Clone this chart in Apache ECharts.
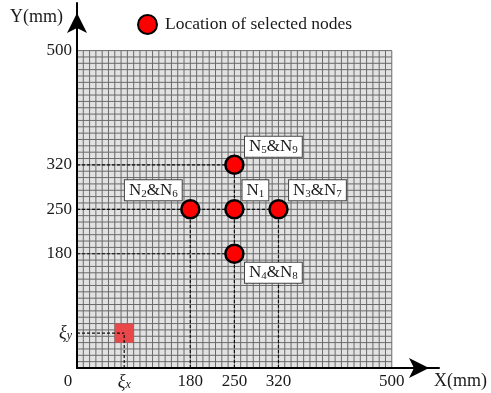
<!DOCTYPE html>
<html>
<head>
<meta charset="utf-8">
<script src="https://cdn.jsdelivr.net/npm/echarts@6/dist/echarts.min.js"></script>
<style>
  html, body { margin: 0; padding: 0; background: #fff; }
  #chart { width: 491px; height: 393px; }
</style>
</head>
<body>
<div id="chart"></div>
<script>
// ---- data ----
const xTicks = [0, 180, 250, 320, 500];
const yTicks = [180, 250, 320, 500];
const xiPoint = [75, 55];                 // (xi_x, xi_y)
const xiCell = [60, 40, 90, 70];          // x0, y0, x1, y1 of red cell
const nodeNames = ["N1", "N2&N6", "N3&N7", "N4&N8", "N5&N9"];
const nodeX = [250, 180, 320, 250, 250];
const nodeY = [250, 250, 250, 180, 320];
const meshSize = 500;
const meshStep = 10;
const axisEnd = 575;                      // arrow tip beyond the mesh

const FONT = "Liberation Serif";
const TXT = "#1a1a1a";

// label placement around each node (px, from node centre)
const labelOffset = {
  "N1": [21, -19],
  "N2&N6": [-37, -19],
  "N3&N7": [39, -19],
  "N4&N8": [39, 19],
  "N5&N9": [39, -18]
};

const chart = echarts.init(document.getElementById("chart"), null, { renderer: "canvas" });

// dashed guides: from axes to the farthest node on each row / column
const guides = [];
[...new Set(nodeY)].forEach(y => {
  const xm = Math.max(...nodeX.filter((x, i) => nodeY[i] === y));
  guides.push([[0, y], [xm, y]]);
});
[...new Set(nodeX)].forEach(x => {
  const ym = Math.max(...nodeY.filter((y, i) => nodeX[i] === x));
  guides.push([[x, 0], [x, ym]]);
});
guides.push([[0, xiPoint[1]], xiPoint]);
guides.push([[xiPoint[0], 0], xiPoint]);

const guideSeries = guides.map(g => ({
  type: "line",
  data: g,
  symbol: "none",
  silent: true,
  z: 3,
  lineStyle: { color: "#111", width: 1.2, type: [3, 2] }
}));

const axisLineStyle = {
  show: true,
  symbol: ["none", "arrow"],
  symbolSize: [15, 20],
  symbolOffset: [0, -10],
  lineStyle: { color: "#000", width: 2 }
};

const xiRich = {
  xi: { fontFamily: FONT, fontSize: 18, fontStyle: "italic", color: TXT, lineHeight: 18 },
  sub: { fontFamily: FONT, fontSize: 12, fontStyle: "italic", color: TXT, verticalAlign: "bottom", lineHeight: 10 },
  zero: { fontFamily: FONT, fontSize: 17, color: TXT, padding: [0, 18, 0, 0] }
};

chart.setOption({
  animation: false,
  grid: { left: 77, right: 52, top: 3, bottom: 25 },

  legend: {
    data: ["Location of selected nodes"],
    left: 132,
    top: 9,
    itemWidth: 19,
    itemHeight: 19,
    textStyle: { fontFamily: FONT, fontSize: 17.5, color: TXT, padding: [0, 0, 0, 3] }
  },

  xAxis: {
    type: "value",
    min: 0,
    max: axisEnd,
    z: 10,
    axisLine: axisLineStyle,
    axisTick: { show: false },
    splitLine: { show: false },
    axisLabel: {
      customValues: [...xTicks, xiPoint[0]],
      margin: 5,
      fontFamily: FONT,
      fontSize: 17,
      color: TXT,
      formatter: v => {
        if (v === xiPoint[0]) return "{xi|ξ}{sub|x}";
        if (v === 0) return "{zero|0}";
        return String(v);
      },
      rich: xiRich
    },
    name: "X(mm)",
    nameLocation: "end",
    nameGap: -5,
    nameTextStyle: {
      fontFamily: FONT, fontSize: 18, color: TXT,
      align: "left", verticalAlign: "top", padding: [4, 0, 0, 0]
    }
  },

  yAxis: {
    type: "value",
    min: 0,
    max: axisEnd,
    z: 10,
    axisLine: axisLineStyle,
    axisTick: { show: false },
    splitLine: { show: false },
    axisLabel: {
      customValues: [xiPoint[1], ...yTicks],
      margin: 5,
      fontFamily: FONT,
      fontSize: 17,
      color: TXT,
      formatter: v => (v === xiPoint[1] ? "{xi|ξ}{sub|y}" : String(v)),
      rich: xiRich
    },
    name: "Y(mm)",
    nameLocation: "end",
    nameGap: -14,
    nameTextStyle: {
      fontFamily: FONT, fontSize: 18, color: TXT,
      align: "right", verticalAlign: "middle", padding: [0, 14, 0, 0]
    }
  },

  series: [
    // mesh
    {
      type: "custom",
      silent: true,
      z: 1,
      data: [[0, 0]],
      renderItem(params, api) {
        const p0 = api.coord([0, 0]);
        const p1 = api.coord([meshSize, meshSize]);
        const children = [{
          type: "rect",
          shape: { x: p0[0], y: p1[1], width: p1[0] - p0[0], height: p0[1] - p1[1] },
          style: { fill: "#e2e2e2" }
        }];
        for (let v = meshStep; v <= meshSize; v += meshStep) {
          const a = api.coord([v, 0]), b = api.coord([v, meshSize]);
          const c = api.coord([0, v]), d = api.coord([meshSize, v]);
          children.push({ type: "line", shape: { x1: a[0], y1: a[1], x2: b[0], y2: b[1] }, style: { stroke: "#6a6a6a", lineWidth: 1 } });
          children.push({ type: "line", shape: { x1: c[0], y1: c[1], x2: d[0], y2: d[1] }, style: { stroke: "#6a6a6a", lineWidth: 1 } });
        }
        return { type: "group", children };
      }
    },
    // red cell at xi
    {
      type: "custom",
      silent: true,
      z: 2,
      data: [xiCell],
      renderItem(params, api) {
        const a = api.coord([api.value(0), api.value(1)]);
        const b = api.coord([api.value(2), api.value(3)]);
        return {
          type: "rect",
          shape: { x: a[0], y: b[1], width: b[0] - a[0], height: a[1] - b[1] },
          style: { fill: "#e9474a" }
        };
      }
    },
    ...guideSeries,
    // selected nodes
    {
      name: "Location of selected nodes",
      type: "scatter",
      z: 5,
      symbol: "circle",
      symbolSize: 18,
      itemStyle: { color: "#ff0000", borderColor: "#000", borderWidth: 2.5, opacity: 1 },
      data: nodeNames.map((n, i) => ({
        name: n,
        value: [nodeX[i], nodeY[i]],
        label: { offset: labelOffset[n] }
      })),
      label: {
        show: true,
        position: "inside",
        align: "center",
        verticalAlign: "middle",
        formatter: p => p.name.replace(/N(\d)/g, "N{s|$1}"),
        fontFamily: FONT,
        fontSize: 17,
        lineHeight: 18,
        color: TXT,
        backgroundColor: "#fff",
        borderColor: "#444",
        borderWidth: 1,
        padding: [1, 4, 1, 4],
        rich: {
          s: { fontFamily: FONT, fontSize: 11, color: TXT, verticalAlign: "bottom", lineHeight: 10 }
        }
      },
      emphasis: { disabled: true }
    }
  ]
});

window.addEventListener("resize", () => chart.resize());
</script>
</body>
</html>
